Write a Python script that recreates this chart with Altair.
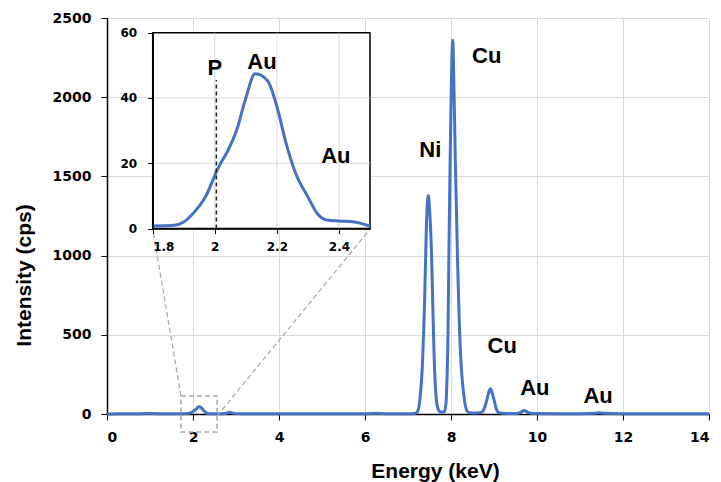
import altair as alt
import pandas as pd

# ---------------- data ----------------
energy = [0.00, 0.30, 0.60, 0.90, 1.20, 1.50, 1.80, 1.90, 1.97, 2.03, 2.08, 2.13, 2.17, 2.21,
          2.26, 2.31, 2.38, 2.55, 2.75, 2.85, 2.95, 3.10, 4.00, 5.00, 6.00, 6.30, 6.50, 7.00,
          7.15, 7.22, 7.28, 7.34, 7.38, 7.41, 7.43, 7.47, 7.50, 7.52, 7.55, 7.58, 7.61, 7.65,
          7.69, 7.74, 7.80, 7.84, 7.88, 7.91, 7.93, 7.95, 7.98, 8.01, 8.04, 8.07, 8.10, 8.13,
          8.15, 8.19, 8.23, 8.26, 8.30, 8.37, 8.44, 8.58, 8.65, 8.72, 8.78, 8.83, 8.88, 8.92,
          8.96, 9.01, 9.05, 9.10, 9.20, 9.50, 9.62, 9.70, 9.78, 9.90, 10.50, 11.00, 11.35,
          11.45, 11.55, 12.00, 13.00, 14.00]
intensity = [0, 2, 1, 3, 2, 2, 2, 4, 10, 22, 32, 45, 44, 34,
             18, 7, 2, 1, 3, 11, 4, 1, 1, 1, 2, 5, 1, 1,
             3, 15, 100, 340, 650, 990, 1200, 1380, 1300, 1200, 990, 650, 340, 120,
             40, 15, 12, 15, 60, 250, 500, 990, 1600, 2100, 2360, 2050, 1600, 1250,
             990, 600, 340, 220, 115, 20, 8, 6, 8, 12, 40, 85, 140, 160,
             130, 80, 35, 10, 5, 3, 10, 22, 12, 3, 2, 2, 5,
             8, 4, 2, 1, 1]

inset_energy = [1.80, 1.87, 1.90, 1.93, 1.97, 2.01, 2.04, 2.07, 2.10, 2.13, 2.17, 2.20,
                2.23, 2.26, 2.30, 2.33, 2.36, 2.40, 2.45, 2.50]
inset_intensity = [0.8, 1.0, 2.0, 4.6, 9.7, 18.4, 23.5, 30.0, 40.0, 47.4, 45.3, 37.4,
                   26.0, 17.0, 9.7, 4.6, 2.6, 2.3, 2.0, 0.7]

main_labels = ["Cu", "Ni", "Cu", "Au", "Au"]
main_label_x = [8.83, 7.52, 9.19, 9.95, 11.42]
main_label_y = [2217, 1622, 388, 120, 70]

inset_labels = ["P", "Au", "Au"]
inset_label_x = [2.00, 2.152, 2.39]
inset_label_y = [47.1, 48.9, 20.1]

x_ticks = [0, 2, 4, 6, 8, 10, 12, 14]
y_ticks = [0, 500, 1000, 1500, 2000, 2500]
inset_x_ticks = [1.8, 2.0, 2.2, 2.4]
inset_y_ticks = [0, 20, 40, 60]
inset_x_grid = [2.0, 2.2, 2.4]
inset_y_grid = [20, 40]
p_line_x = 2.005
p_line_top = 45.5

# zoom box (main coordinates) and connector lines
box = pd.DataFrame({"x": [1.72], "x2": [2.56], "y": [114], "y2": [-114]})
connectors = pd.DataFrame({"x": [1.72, 2.56], "y": [114, -13],
                           "x2": [1.063, 6.12], "y2": [1168, 1168]})

BLUE = "#4472C4"
GRID = "#d9d9d9"
W, H = 602, 396

main_df = pd.DataFrame({"e": energy, "i": intensity})
inset_df = pd.DataFrame({"e": inset_energy, "i": inset_intensity})
mlab = pd.DataFrame({"x": main_label_x, "y": main_label_y, "t": main_labels})
ilab = pd.DataFrame({"x": inset_label_x, "y": inset_label_y, "t": inset_labels})

main_xscale = alt.Scale(domain=[0, 14], nice=False, zero=False)
main_yscale = alt.Scale(domain=[0, 2500], nice=False)
main_xaxis = alt.Axis(values=x_ticks, title="Energy (keV)", grid=True, gridColor=GRID,
                      domainColor="black", domainWidth=1.5, tickColor="black", tickSize=6,
                      labelFont="DejaVu Sans", labelFontWeight="bold", labelFontSize=14,
                      labelColor="black", labelPadding=10, format="d",
                      titleFont="Liberation Sans", titleFontSize=21, titleFontWeight="bold",
                      titleColor="black", titleX=328, titleY=63, titleBaseline="alphabetic",
                      titleAlign="center", titleAnchor="start")
main_yaxis = alt.Axis(values=y_ticks, title="Intensity (cps)", grid=True, gridColor=GRID,
                      domainColor="black", domainWidth=1.5, tickColor="black", tickSize=6,
                      labelFont="DejaVu Sans", labelFontWeight="bold", labelFontSize=14,
                      labelColor="black", labelPadding=10, format="d",
                      titleFont="Liberation Sans", titleFontSize=21, titleFontWeight="bold",
                      titleColor="black", titleX=-77, titleY=257, titleAngle=270,
                      titleBaseline="alphabetic", titleAlign="center", titleAnchor="start")


def mx(f):
    return alt.X(f, type="quantitative", scale=main_xscale, axis=main_xaxis)


def my(f):
    return alt.Y(f, type="quantitative", scale=main_yscale, axis=main_yaxis)


main_line = alt.Chart(main_df).mark_line(color=BLUE, strokeWidth=3, interpolate="monotone").encode(
    x=mx("e"), y=my("i"))
box_mark = alt.Chart(box).mark_rect(fillOpacity=0, stroke="#a6a6a6", strokeWidth=1.5,
                                    strokeDash=[5, 3]).encode(x=mx("x"), x2="x2", y=my("y"), y2="y2")
conn_mark = alt.Chart(connectors).mark_rule(color="#a6a6a6", strokeWidth=1.2,
                                            strokeDash=[5, 3]).encode(x=mx("x"), x2="x2", y=my("y"), y2="y2")
main_text = alt.Chart(mlab).mark_text(font="Liberation Sans", fontSize=22, fontWeight="bold",
                                      baseline="alphabetic", align="center", color="black").encode(
    x=mx("x"), y=my("y"), text="t")

main = alt.layer(main_line, box_mark, conn_mark, main_text)

# ---------------- inset ----------------
inset_xscale = alt.Scale(domain=[1.8, 2.5], range=[45.7, 263], nice=False, zero=False)
inset_yscale = alt.Scale(domain=[0, 60], range=[210.5, 14.7], nice=False)
inset_xaxis = alt.Axis(orient="bottom", offset=-185.5, values=inset_x_ticks, format="~g",
                       title=None, grid=False, domainColor="black", domainWidth=1.5,
                       tickColor="black", tickSize=5, labelFont="DejaVu Sans",
                       labelFontWeight="bold", labelFontSize=12, labelColor="black",
                       labelPadding=8, zindex=1)
inset_yaxis = alt.Axis(orient="left", offset=-45.7, values=inset_y_ticks, format="d",
                       title=None, grid=False, domainColor="black", domainWidth=1.5,
                       tickColor="black", tickSize=5, labelFont="DejaVu Sans",
                       labelFontWeight="bold", labelFontSize=12, labelColor="black",
                       labelPadding=11, zindex=1)


def ix(f):
    return alt.X(f, type="quantitative", scale=inset_xscale, axis=inset_xaxis)


def iy(f):
    return alt.Y(f, type="quantitative", scale=inset_yscale, axis=inset_yaxis)


bg = pd.DataFrame({"x": [1.8], "x2": [2.5], "y": [0], "y2": [60]})
inset_bg = alt.Chart(bg).mark_rect(fill="white", stroke="black", strokeWidth=1.5).encode(
    x=ix("x"), x2="x2", y=iy("y"), y2="y2")
vgrid = pd.DataFrame({"x": inset_x_grid, "y": [0] * len(inset_x_grid), "y2": [60] * len(inset_x_grid)})
hgrid = pd.DataFrame({"y": inset_y_grid, "x": [1.8] * len(inset_y_grid), "x2": [2.5] * len(inset_y_grid)})
inset_vgrid = alt.Chart(vgrid).mark_rule(color=GRID, strokeWidth=1).encode(x=ix("x"), y=iy("y"), y2="y2")
inset_hgrid = alt.Chart(hgrid).mark_rule(color=GRID, strokeWidth=1).encode(y=iy("y"), x=ix("x"), x2="x2")
inset_line = alt.Chart(inset_df).mark_line(color=BLUE, strokeWidth=3, interpolate="monotone").encode(
    x=ix("e"), y=iy("i"))
pline = pd.DataFrame({"x": [p_line_x], "y": [0], "y2": [p_line_top]})
inset_pline = alt.Chart(pline).mark_rule(color="#222222", strokeWidth=1.5, strokeDash=[4, 3]).encode(
    x=ix("x"), y=iy("y"), y2="y2")
inset_text = alt.Chart(ilab).mark_text(font="Liberation Sans", fontSize=22, fontWeight="bold",
                                       baseline="alphabetic", align="center", color="black").encode(
    x=ix("x"), y=iy("y"), text="t")

inset = alt.layer(inset_bg, inset_vgrid, inset_hgrid, inset_line, inset_pline, inset_text)

chart = alt.layer(main, inset).resolve_scale(x="independent", y="independent").properties(
    width=W, height=H,
    autosize=alt.AutoSizeParams(type="none"),
    padding={"left": 99, "top": 10, "right": 4, "bottom": 68},
).configure_view(stroke="#222222", strokeWidth=1.5).configure(background="white")

chart.save("out.html", embed_options={"renderer": "svg", "actions": False})
